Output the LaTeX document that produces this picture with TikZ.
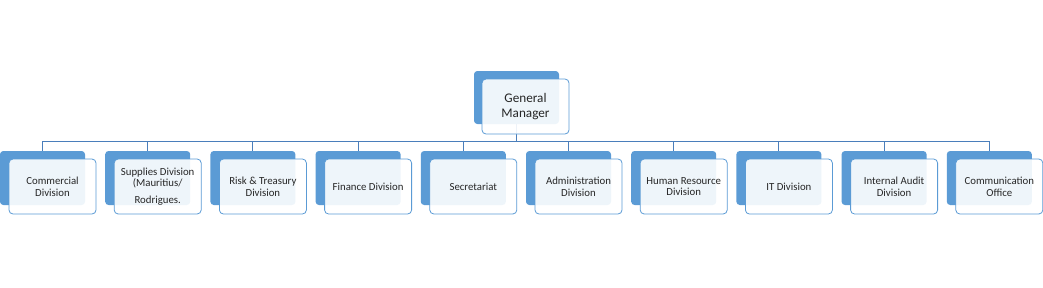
\documentclass[tikz,border=0pt]{standalone}
\usepackage{fontspec}
\setmainfont{Carlito}
\usepackage{xcolor}
\definecolor{boxblue}{HTML}{5B9BD5}
\definecolor{lineblue}{HTML}{4A7EBB}
\definecolor{textgray}{HTML}{262626}
\tikzset{
  backbox/.style={fill=boxblue, draw=none, rounded corners=2.5pt,
    minimum width=63.75pt, minimum height=40.5pt, inner sep=0pt},
  frontbox/.style={fill=white, fill opacity=0.9, text opacity=1, draw=boxblue,
    line width=0.6pt, rounded corners=3pt, minimum width=65.25pt,
    minimum height=41.25pt, inner sep=0pt, align=center, text=textgray,
    font=\fontsize{8.1}{8.8}\selectfont},
  conn/.style={draw=lineblue, line width=0.75pt}
}

\begin{document}
\begin{tikzpicture}[x=0.75pt, y=-0.75pt]
    \useasboundingbox (0,0) rectangle (1043,287);

    % General Manager
    \node[backbox, minimum height=39.75pt] (gmback) at (516.5,97.5) {};
    \coordinate (bar) at (0,141);

    % Les divisions
    \foreach \lab [count=\i] in {Commercial\\Division,
        Supplies Division\\(Mauritius/\\[3.75pt]Rodrigues.,
        Risk \& Treasury\\Division, Finance Division, Secretariat,
        Administration\\Division, Human Resource\\Division, IT Division,
        Internal Audit\\Division, Communication\\Office} {
      \node[backbox] (cb\i) at ({42.5+105.2*(\i-1)},178) {};
      \draw[conn] (gmback.south) -- (gmback.south |- bar) -| (cb\i.north);
      \node[frontbox] (cf\i) at ([shift={(10,8.5)}]cb\i.center) {\lab};
    }

    \node[frontbox, font=\fontsize{9.9}{11.25}\selectfont] (gmfront)
      at ([shift={(9,9)}]gmback.center) {General\\Manager};
\end{tikzpicture}
\end{document}
